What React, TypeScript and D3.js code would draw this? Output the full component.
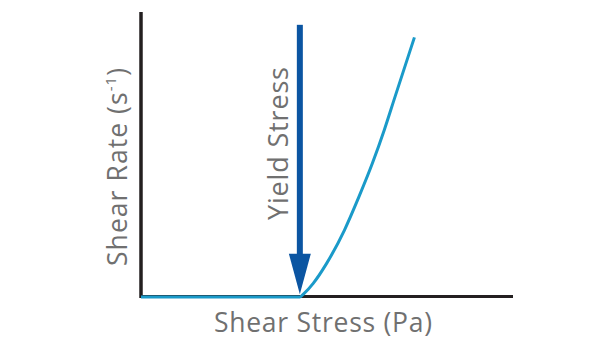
import React from "react";
import * as d3 from "d3";

const stress = [0, 42.7, 43.8, 46.3, 49.9, 54.7, 58.6, 62.2, 65.4, 68.3, 73.5];
const shearRate = [0, 0, 1.2, 4.8, 11.8, 23.5, 35.2, 46.9, 58.6, 70.3, 91.1];
const yieldStress = 42.7;
const xLabel = "Shear Stress (Pa)";
const yLabelMain = "Shear Rate (s";
const yLabelSup = "-1";
const arrowLabel = "Yield Stress";

const W = 615;
const H = 350;

export default function App() {
  const x = d3.scaleLinear().domain([0, 100]).range([141, 513]);
  const y = d3.scaleLinear().domain([0, 100]).range([297, 12]);
  const pts = stress.map((s, i) => [s, shearRate[i]] as [number, number]);
  const line = d3
    .line<[number, number]>()
    .x((d) => x(d[0]))
    .y((d) => y(d[1]))
    .curve(d3.curveMonotoneX);

  const ax = x(yieldStress);
  const shaftTop = y(95.5);
  const headBase = y(15.2);
  const tip = y(1);
  const font = "'Open Sans', 'Noto Sans', sans-serif";
  const gray = "#707070";

  return (
    <svg
      width={W}
      height={H}
      style={{ position: "fixed", left: 0, top: 0, background: "#fff" }}
    >
      {/* axes */}
      <line x1={x(0)} x2={x(0)} y1={y(0) + 1} y2={y(100)} stroke="#231f20" strokeWidth={3.5} />
      <line x1={x(0)} x2={x(100)} y1={y(0) - 0.5} y2={y(0) - 0.5} stroke="#231f20" strokeWidth={3} />
      {/* curve */}
      <path d={line(pts) || ""} fill="none" stroke="#1a9ac9" strokeWidth={3} />
      {/* arrow */}
      <rect x={ax - 3} y={shaftTop} width={6} height={headBase - shaftTop + 2} fill="#0b55a2" />
      <path
        d={`M${ax - 11},${headBase} L${ax + 11},${headBase} L${ax},${tip} Z`}
        fill="#0b55a2"
      />
      {/* labels */}
      <text
        x={214}
        y={332}
        fontFamily={font}
        fontSize={26.5}
        fill={gray}
        textLength={218}
      >
        {xLabel}
      </text>
      <text
        transform={`translate(126.5,266) rotate(-90)`}
        fontFamily={font}
        fontSize={26.5}
        fill={gray}
        textLength={198}
      >
        {yLabelMain}
        <tspan fontSize={15} dy={-11}>{yLabelSup}</tspan>
        <tspan dy={11}>)</tspan>
      </text>
      <text
        transform={`translate(288,220) rotate(-90)`}
        fontFamily={font}
        fontSize={27}
        fill={gray}
        textLength={153}
      >
        {arrowLabel}
      </text>
    </svg>
  );
}
